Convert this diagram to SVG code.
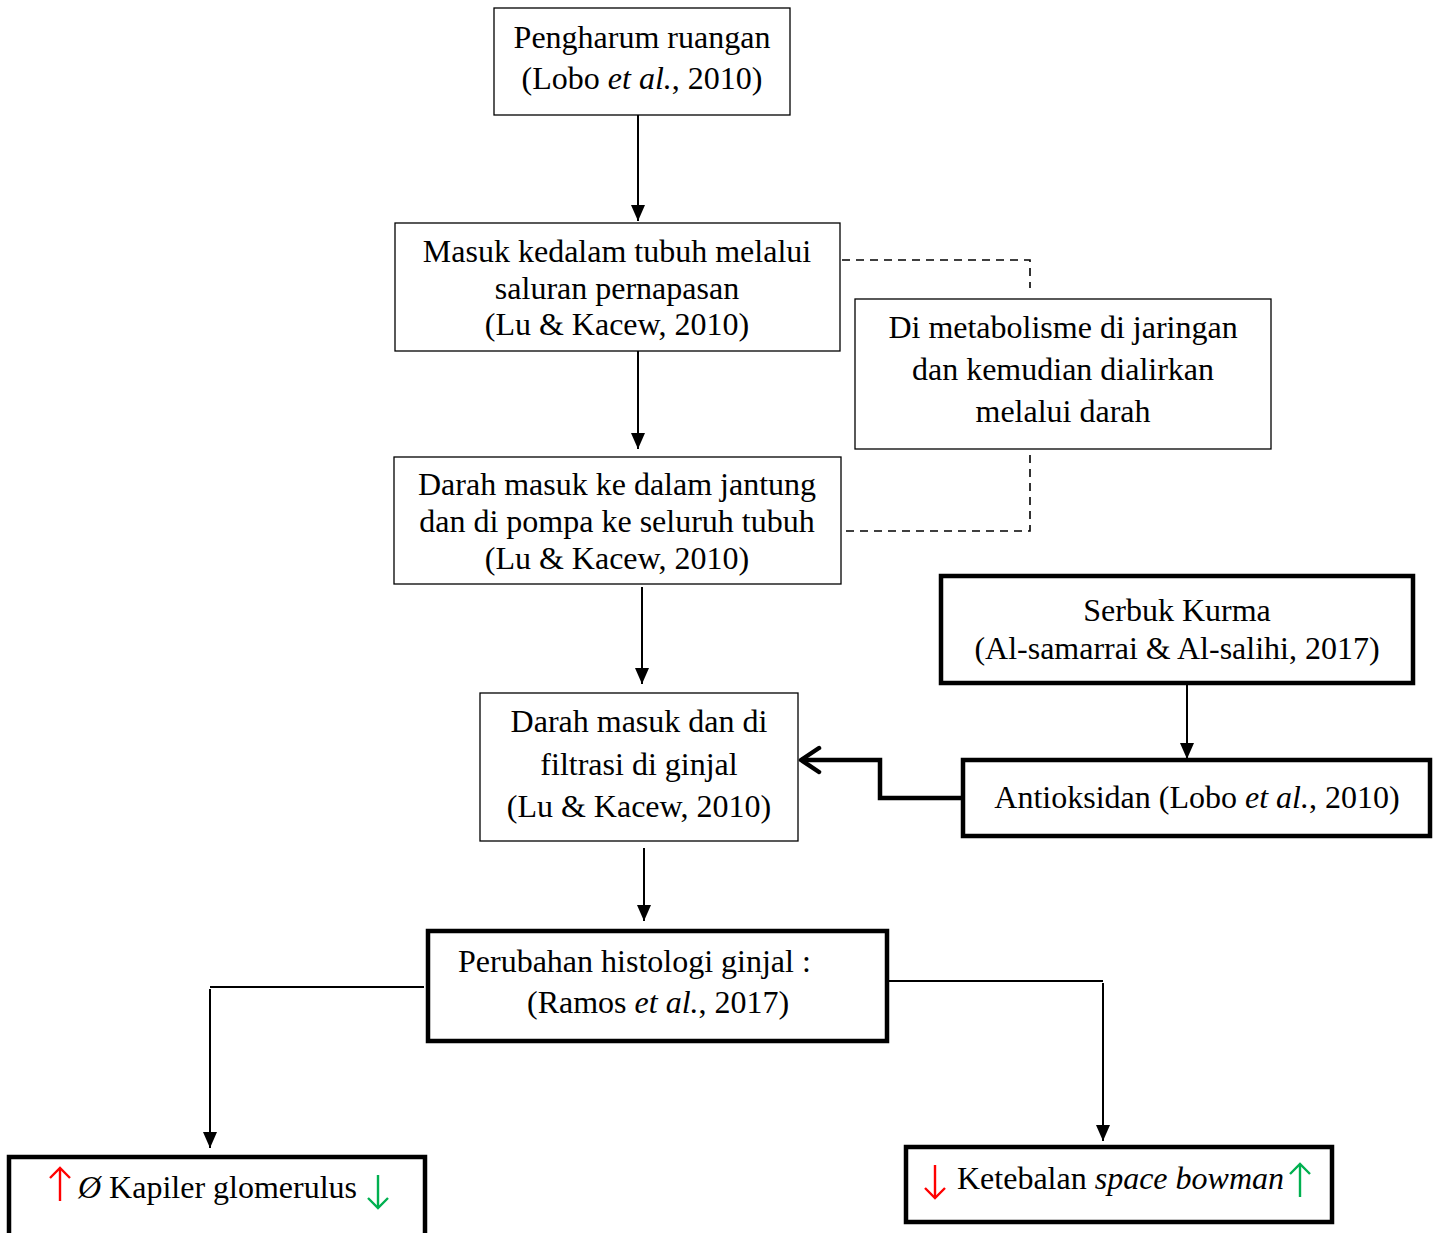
<svg xmlns="http://www.w3.org/2000/svg" width="1435" height="1233" viewBox="0 0 1435 1233">
<style>
text{font-family:"Liberation Serif","Times New Roman",serif;font-size:32px;fill:#000}
.c{text-anchor:middle}
.thin{fill:#fff;stroke:#000;stroke-width:1.3}
.thick{fill:#fff;stroke:#000;stroke-width:4.5}
.ln{fill:none;stroke:#000;stroke-width:2}
.dash{fill:none;stroke:#000;stroke-width:1.6;stroke-dasharray:8,6}
.bold{fill:none;stroke:#000;stroke-width:4.5;stroke-linejoin:miter}
.sym{fill:none;stroke-width:2.4}
.red{stroke:#ff0000}
.grn{stroke:#00b050}
</style>
<defs>
<marker id="ah" markerUnits="userSpaceOnUse" markerWidth="16" markerHeight="14" refX="16" refY="7" orient="auto">
<path d="M0,0 L16,7 L0,14 z" fill="#000"/>
</marker>
<marker id="open" markerUnits="userSpaceOnUse" markerWidth="26" markerHeight="28" refX="22" refY="14" orient="auto" overflow="visible">
<path d="M4,2 L22,14 L4,26" fill="none" stroke="#000" stroke-width="4.5" stroke-linecap="round" stroke-linejoin="round"/>
</marker>
<marker id="vr" markerUnits="userSpaceOnUse" markerWidth="12" markerHeight="22" refX="11" refY="11" orient="auto" overflow="visible">
<path d="M1,1 L11,11 L1,21" fill="none" stroke="#ff0000" stroke-width="2.4"/>
</marker>
<marker id="vg" markerUnits="userSpaceOnUse" markerWidth="12" markerHeight="22" refX="11" refY="11" orient="auto" overflow="visible">
<path d="M1,1 L11,11 L1,21" fill="none" stroke="#00b050" stroke-width="2.4"/>
</marker>
</defs>
<g id="connectors">
<line class="ln" x1="638" y1="115" x2="638" y2="221" marker-end="url(#ah)"/>
<line class="ln" x1="638" y1="351" x2="638" y2="449" marker-end="url(#ah)"/>
<line class="ln" x1="642" y1="587" x2="642" y2="684" marker-end="url(#ah)"/>
<line class="ln" x1="644" y1="848" x2="644" y2="921" marker-end="url(#ah)"/>
<line class="ln" x1="1187" y1="683" x2="1187" y2="759" marker-end="url(#ah)"/>
<polyline class="dash" points="842,260 1030,260 1030,288"/>
<polyline class="dash" points="1030,455 1030,531 842,531"/>
<polyline class="bold" points="963,798 880,798 880,760 801,760" marker-end="url(#open)"/>
<polyline class="ln" points="424,987 210,987"/>
<line class="ln" x1="210" y1="989" x2="210" y2="1148" marker-end="url(#ah)"/>
<polyline class="ln" points="887,981 1103,981"/>
<line class="ln" x1="1103" y1="983" x2="1103" y2="1141" marker-end="url(#ah)"/>
</g>
<g id="n1">
<rect class="thin" x="494" y="8" width="296" height="107"/>
<text class="c" x="642" y="48">Pengharum ruangan</text>
<text class="c" x="642" y="89">(Lobo <tspan font-style="italic">et al.</tspan>, 2010)</text>
</g>
<g id="n2">
<rect class="thin" x="395" y="223" width="445" height="128"/>
<text class="c" x="617" y="262">Masuk kedalam tubuh melalui</text>
<text class="c" x="617" y="299">saluran pernapasan</text>
<text class="c" x="617" y="335">(Lu &amp; Kacew, 2010)</text>
</g>
<g id="n3">
<rect class="thin" x="855" y="299" width="416" height="150"/>
<text class="c" x="1063" y="338">Di metabolisme di jaringan</text>
<text class="c" x="1063" y="380">dan kemudian dialirkan</text>
<text class="c" x="1063" y="422">melalui darah</text>
</g>
<g id="n4">
<rect class="thin" x="394" y="457" width="447" height="127"/>
<text class="c" x="617" y="495">Darah masuk ke dalam jantung</text>
<text class="c" x="617" y="532">dan di pompa ke seluruh tubuh</text>
<text class="c" x="617" y="569">(Lu &amp; Kacew, 2010)</text>
</g>
<g id="n5">
<rect class="thin" x="480" y="693" width="318" height="148"/>
<text class="c" x="639" y="732">Darah masuk dan di</text>
<text class="c" x="639" y="775">filtrasi di ginjal</text>
<text class="c" x="639" y="817">(Lu &amp; Kacew, 2010)</text>
</g>
<g id="n6">
<rect class="thick" x="941" y="576" width="472" height="107"/>
<text class="c" x="1177" y="621">Serbuk Kurma</text>
<text class="c" x="1177" y="659">(Al-samarrai &amp; Al-salihi, 2017)</text>
</g>
<g id="n7">
<rect class="thick" x="963" y="760" width="467" height="76"/>
<text class="c" x="1197" y="808">Antioksidan (Lobo <tspan font-style="italic">et al.</tspan>, 2010)</text>
</g>
<g id="n8">
<rect class="thick" x="428" y="931" width="459" height="110"/>
<text x="458" y="972">Perubahan histologi ginjal :</text>
<text x="527" y="1013">(Ramos <tspan font-style="italic">et al.</tspan>, 2017)</text>
</g>
<g id="n9">
<rect class="thick" x="9" y="1157" width="416" height="80"/>
<line class="sym red" x1="60" y1="1201" x2="60" y2="1168" marker-end="url(#vr)"/>
<text x="78" y="1198"><tspan font-style="italic">Ø</tspan> Kapiler glomerulus</text>
<line class="sym grn" x1="378" y1="1175" x2="378" y2="1208" marker-end="url(#vg)"/>
</g>
<g id="n10">
<rect class="thick" x="906" y="1147" width="426" height="75"/>
<line class="sym red" x1="935" y1="1165" x2="935" y2="1198" marker-end="url(#vr)"/>
<text x="957" y="1189">Ketebalan <tspan font-style="italic">space bowman</tspan></text>
<line class="sym grn" x1="1300" y1="1197" x2="1300" y2="1164" marker-end="url(#vg)"/>
</g>
</svg>
